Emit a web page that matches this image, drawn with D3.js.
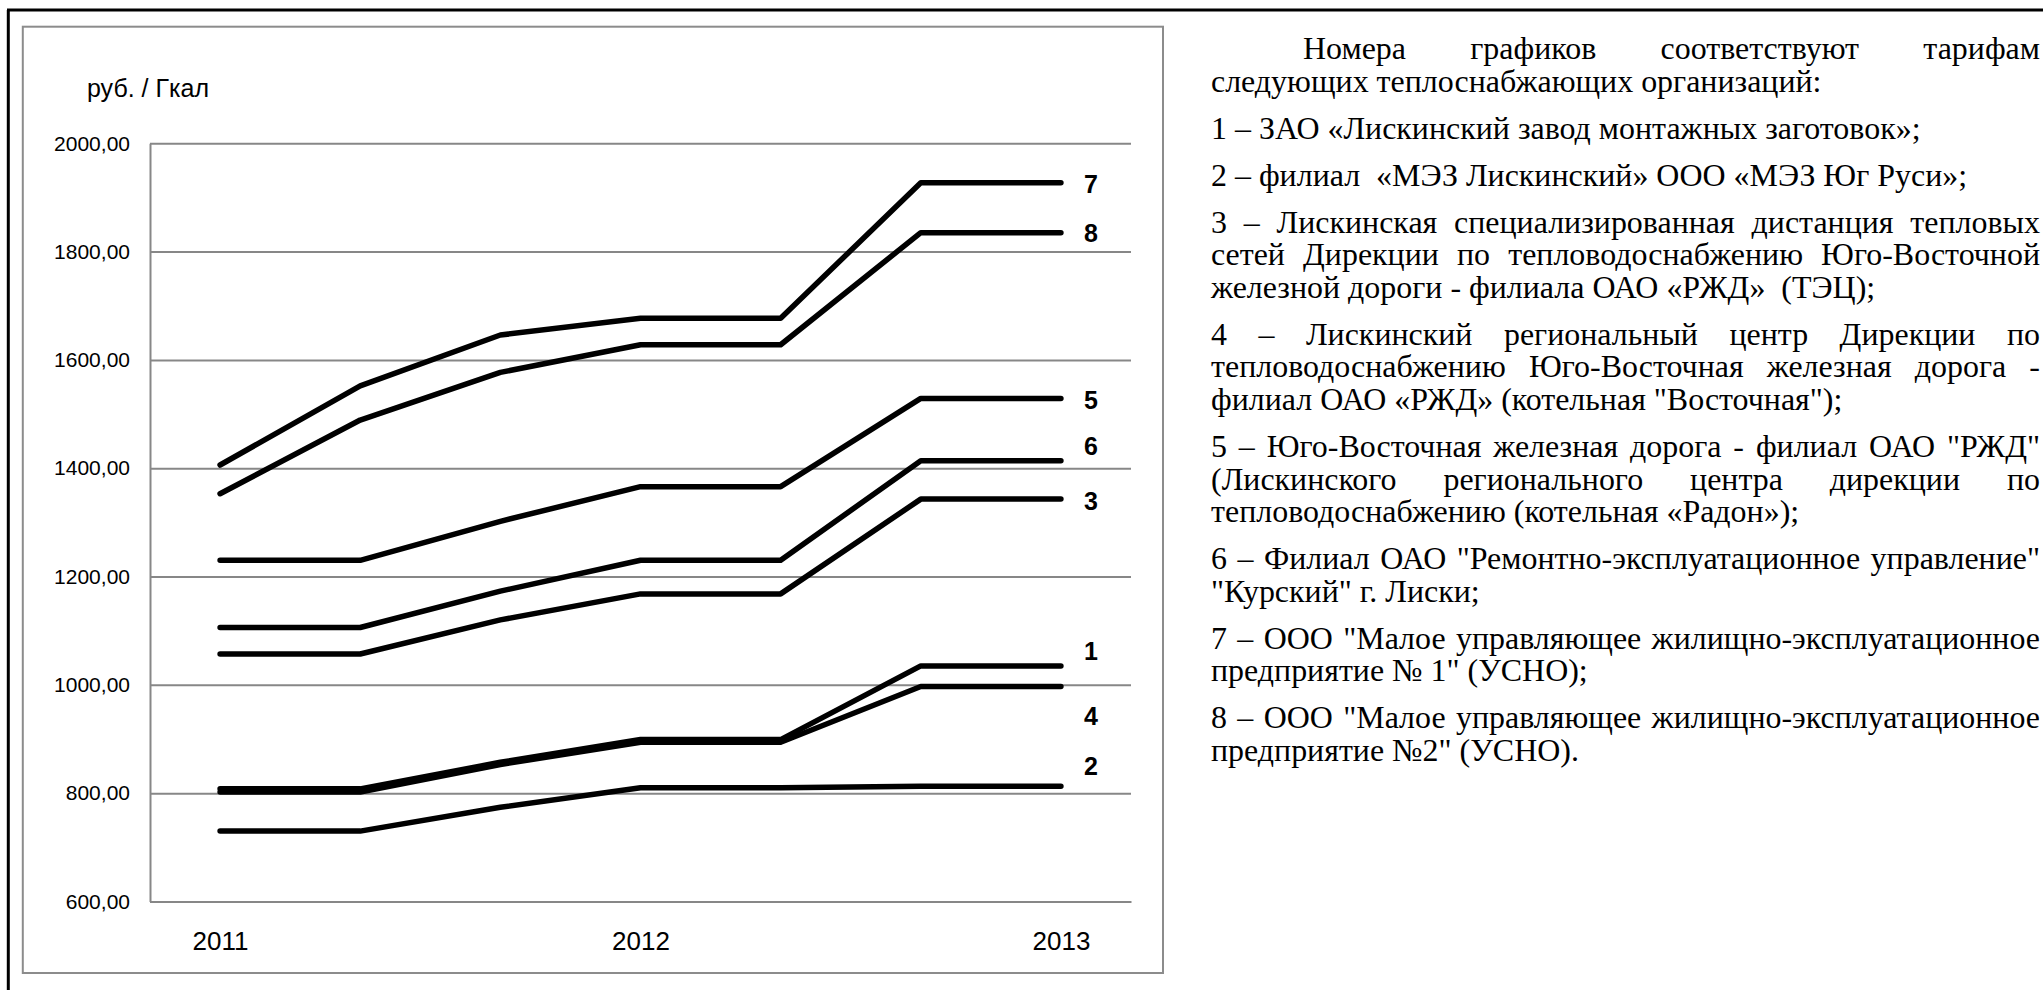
<!DOCTYPE html>
<html><head><meta charset="utf-8">
<script src="https://cdn.jsdelivr.net/npm/d3@7"></script>
<style>
body{margin:0;background:#fff;}
svg{display:block;}
</style>
</head><body>
<svg id="c" width="2043" height="990"></svg>
<script>
// ---------- data ----------
const categories = ["2011a","2011b","2011c","2012a","2012b","2012c","2013a"];
const tickLabels = ["2011","","","2012","","","2013"];
const yTicks = [600,800,1000,1200,1400,1600,1800,2000];
const seriesNames = ["1","2","3","4","5","6","7","8"];
const s1 = [808, 808, 857, 899, 899, 1035, 1035];
const s2 = [730, 730, 774, 810, 810, 813, 813];
const s3 = [1057, 1057, 1120, 1168, 1168, 1343, 1343];
const s4 = [802, 802, 853, 894, 894, 997, 997];
const s5 = [1230, 1230, 1302, 1366, 1366, 1529, 1529];
const s6 = [1106, 1106, 1173, 1230, 1230, 1414, 1414];
const s7 = [1406, 1552, 1646, 1677, 1677, 1927, 1927];
const s8 = [1353, 1489, 1577, 1628, 1628, 1835, 1835];
const seriesValues = [s1, s2, s3, s4, s5, s6, s7, s8];
const yLabel = "руб. / Гкал";
const legendParagraphs = [
  ["Номера графиков соответствуют тарифам", "следующих теплоснабжающих организаций:"],
  ["1 – ЗАО «Лискинский завод монтажных заготовок»;"],
  ["2 – филиал  «МЭЗ Лискинский» ООО «МЭЗ Юг Руси»;"],
  ["3 – Лискинская специализированная дистанция тепловых", "сетей Дирекции по тепловодоснабжению Юго-Восточной", "железной дороги - филиала ОАО «РЖД»  (ТЭЦ);"],
  ["4 – Лискинский региональный центр Дирекции по", "тепловодоснабжению Юго-Восточная железная дорога -", "филиал ОАО «РЖД» (котельная \"Восточная\");"],
  ["5 – Юго-Восточная железная дорога - филиал ОАО \"РЖД\"", "(Лискинского регионального центра дирекции по", "тепловодоснабжению (котельная «Радон»);"],
  ["6 – Филиал ОАО \"Ремонтно-эксплуатационное управление\"", "\"Курский\" г. Лиски;"],
  ["7 – ООО \"Малое управляющее жилищно-эксплуатационное", "предприятие № 1\" (УСНО);"],
  ["8 – ООО \"Малое управляющее жилищно-эксплуатационное", "предприятие №2\" (УСНО)."]
];

// ---------- layout / style ----------
const plot = {left: 150, right: 1131, top: 143.3, bottom: 901.5};
const labelDy = {"1": -15, "2": -20, "3": 2, "4": 30, "5": 2, "6": -14, "7": 1, "8": 1};
const GRID = "#878787";

const svg = d3.select("#c");

// outer (cropped) border: left and top
svg.append("line").attr("x1", 8.3).attr("x2", 8.3).attr("y1", 10).attr("y2", 990)
  .attr("stroke", "#000").attr("stroke-width", 3);
svg.append("line").attr("x1", 7).attr("x2", 2043).attr("y1", 10).attr("y2", 10)
  .attr("stroke", "#000").attr("stroke-width", 3);

// chart frame
svg.append("rect").attr("x", 22.8).attr("y", 26.7).attr("width", 1163 - 22.8).attr("height", 973 - 26.7)
  .attr("fill", "#fff").attr("stroke", "#8c8c8c").attr("stroke-width", 2);

const x = d3.scalePoint().domain(categories).range([plot.left, plot.right]).padding(0.5);
const y = d3.scaleLinear().domain([600, 2000]).range([plot.bottom, plot.top]);

// gridlines
const grid = svg.append("g").attr("transform", `translate(${plot.left},0)`)
  .call(d3.axisLeft(y).tickValues(yTicks).tickSize(-(plot.right - plot.left)).tickFormat(""));
grid.select(".domain").remove();
grid.selectAll(".tick line").attr("stroke", GRID).attr("stroke-width", 2);

// y axis
const yAxis = svg.append("g").attr("transform", `translate(${plot.left},0)`)
  .call(d3.axisLeft(y).tickValues(yTicks).tickSize(0).tickSizeOuter(0).tickPadding(20)
    .tickFormat(d => d.toFixed(2).replace(".", ",")));
yAxis.select(".domain").attr("stroke", GRID).attr("stroke-width", 2);
yAxis.selectAll(".tick text").attr("font-family", "'Liberation Sans', Arial, sans-serif")
  .attr("font-size", 21).attr("fill", "#000");

// x axis
const xAxis = svg.append("g").attr("transform", `translate(0,${plot.bottom})`)
  .call(d3.axisBottom(x).tickSize(0).tickSizeOuter(0).tickPadding(30)
    .tickFormat((d, i) => tickLabels[i]));
xAxis.select(".domain").attr("stroke", GRID).attr("stroke-width", 2);
xAxis.selectAll(".tick text").attr("font-family", "'Liberation Sans', Arial, sans-serif")
  .attr("font-size", 26).attr("fill", "#000");

// y unit label
svg.append("text").attr("x", 87).attr("y", 97).text(yLabel)
  .attr("font-family", "'Liberation Sans', Arial, sans-serif").attr("font-size", 25).attr("fill", "#000");

// lines
const line = d3.line().x((d, i) => x(categories[i])).y(d => y(d));
svg.append("g").selectAll("path").data(seriesValues).join("path")
  .attr("d", d => line(d)).attr("fill", "none").attr("stroke", "#000")
  .attr("stroke-width", 5.5).attr("stroke-linejoin", "round").attr("stroke-linecap", "round");

// series labels
svg.append("g").selectAll("text").data(seriesValues).join("text")
  .attr("x", x(categories[categories.length - 1]) + 30)
  .attr("y", (d, i) => y(d[d.length - 1]) + labelDy[seriesNames[i]])
  .attr("dy", "0.35em").attr("text-anchor", "middle")
  .attr("font-family", "'Liberation Sans', Arial, sans-serif").attr("font-weight", "bold")
  .attr("font-size", 25).attr("fill", "#000")
  .text((d, i) => seriesNames[i]);

// right text panel (justified)
const txt = {left: 1211, indent: 1303, right: 2040, firstBaseline: 59, lineGap: 32.6, paraGap: 47,
             refLineWidth: 710};
const tg = svg.append("g").attr("font-family", "'Liberation Serif', 'Times New Roman', serif")
  .attr("fill", "#000");
// fit font size so that the paragraph "1 – ..." has the width seen in the reference
const probe = tg.append("text").attr("font-size", 100).style("white-space", "pre").text(legendParagraphs[1][0]);
const fontSize = 100 * txt.refLineWidth / probe.node().getComputedTextLength();
probe.remove();
let baseline = txt.firstBaseline;
legendParagraphs.forEach((para, pi) => {
  para.forEach((ln, li) => {
    const x0 = (pi === 0 && li === 0) ? txt.indent : txt.left;
    const t = tg.append("text").attr("x", x0).attr("y", baseline)
      .attr("font-size", fontSize).style("white-space", "pre").text(ln);
    if (li < para.length - 1) {
      const w = t.node().getComputedTextLength();
      const spaces = (ln.match(/ /g) || []).length;
      if (spaces > 0) t.attr("word-spacing", (txt.right - x0 - w) / spaces);
    }
    if (li < para.length - 1) baseline += txt.lineGap;
  });
  baseline += txt.paraGap;
});
</script>
</body></html>
